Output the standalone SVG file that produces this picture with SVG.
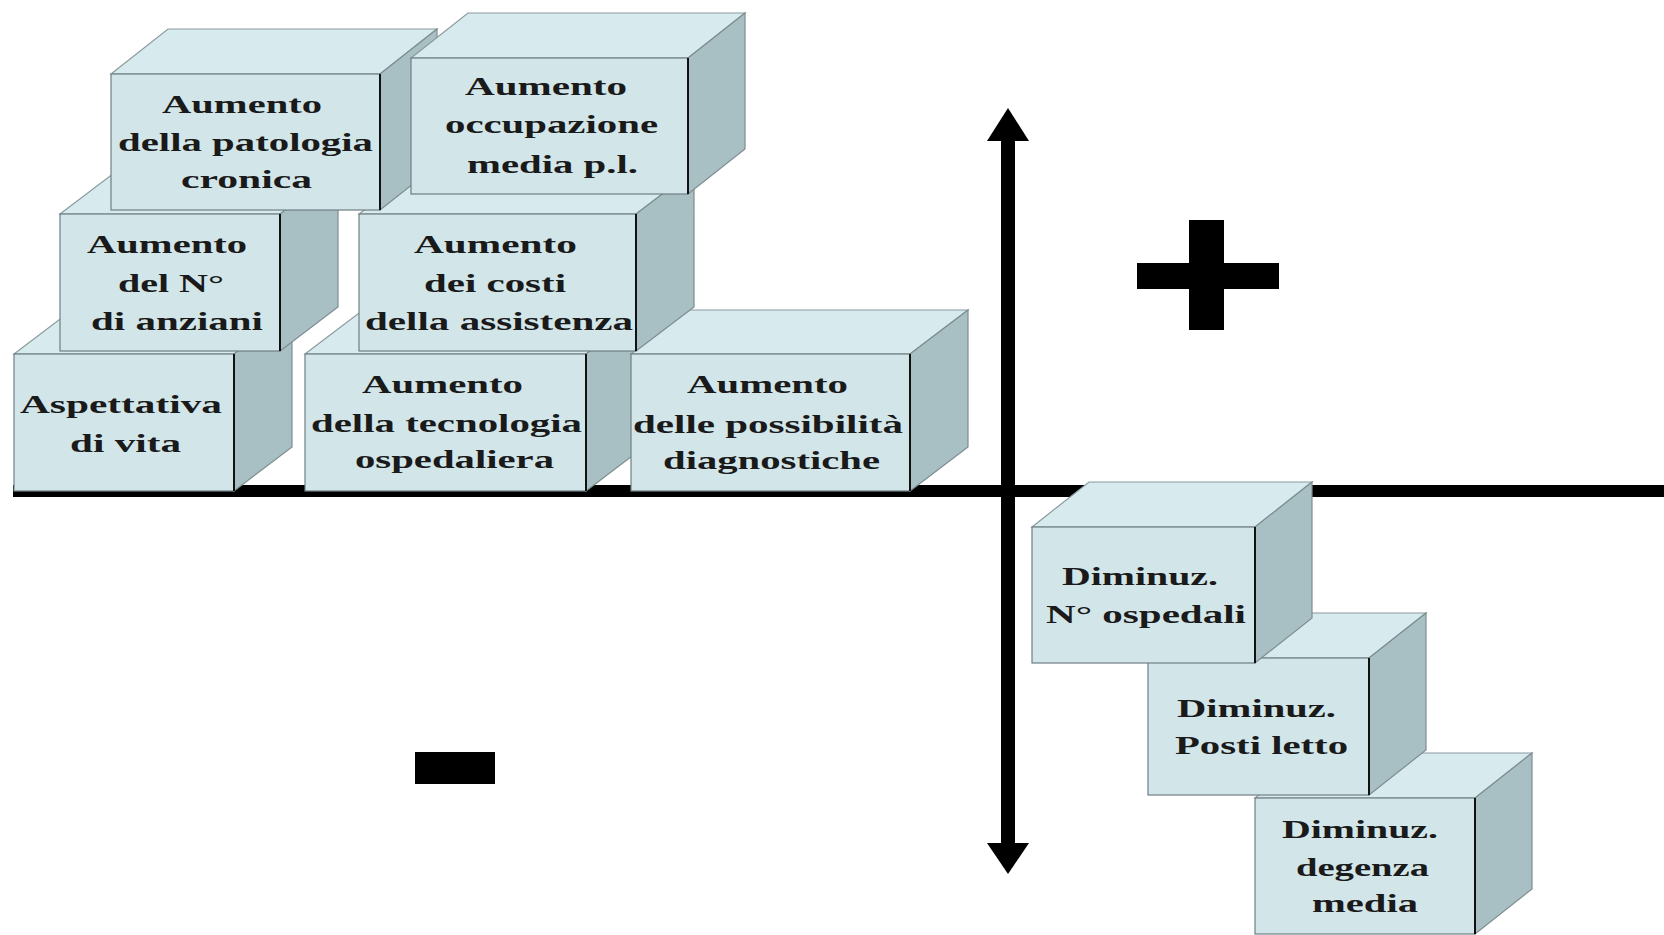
<svg xmlns="http://www.w3.org/2000/svg" width="1664" height="935" viewBox="0 0 1664 935">
<style>
.top{fill:#d7eaee;stroke:#8a9a9d;stroke-width:1.2}
.side{fill:#a8bfc3;stroke:#7d8e91;stroke-width:1.2}
.front{fill:#d2e6ea;stroke:#6f7f82;stroke-width:1.2}
.edge{stroke:#111;stroke-width:2}
.t{font-family:"Liberation Serif","Times New Roman",serif;font-weight:bold;font-size:26px;fill:#1a1a1a}
.ax{fill:#000}
</style>
<rect width="1664" height="935" fill="#fff"/>
<g id="connectors">
<rect class="ax" x="13" y="485" width="1651" height="12"/>
<rect class="ax" x="1001" y="138" width="14" height="707"/>
<polygon class="ax" points="1008,108 987,141 1029,141"/>
<polygon class="ax" points="1008,874 987,843 1029,843"/>
</g>
<g id="plus"><rect class="ax" x="1137" y="263" width="142" height="26"/><rect class="ax" x="1189" y="220" width="35" height="110"/></g>
<g id="minus"><rect class="ax" x="415" y="752" width="80" height="32"/></g>

<g id="box-aspettativa">
<polygon class="top" points="14,354 72,310 292,310 234,354"/>
<polygon class="side" points="234,354 292,310 292,447 234,491"/>
<rect class="front" x="14" y="354" width="220" height="137"/>
<line class="edge" x1="234" y1="354" x2="234" y2="491"/>
<text class="t" x="20" y="413" textLength="202" lengthAdjust="spacingAndGlyphs">Aspettativa</text>
<text class="t" x="70" y="452" textLength="111" lengthAdjust="spacingAndGlyphs">di vita</text>
</g>
<g id="box-tecnologia">
<polygon class="top" points="305,354 363,310 644,310 586,354"/>
<polygon class="side" points="586,354 644,310 644,447 586,491"/>
<rect class="front" x="305" y="354" width="281" height="137"/>
<line class="edge" x1="586" y1="354" x2="586" y2="491"/>
<text class="t" x="362" y="393" textLength="161" lengthAdjust="spacingAndGlyphs">Aumento</text>
<text class="t" x="311" y="432" textLength="271" lengthAdjust="spacingAndGlyphs">della tecnologia</text>
<text class="t" x="355" y="468" textLength="199" lengthAdjust="spacingAndGlyphs">ospedaliera</text>
</g>
<g id="box-diagnostiche">
<polygon class="top" points="631,354 689,310 968,310 910,354"/>
<polygon class="side" points="910,354 968,310 968,447 910,491"/>
<rect class="front" x="631" y="354" width="279" height="137"/>
<line class="edge" x1="910" y1="354" x2="910" y2="491"/>
<text class="t" x="687" y="393" textLength="161" lengthAdjust="spacingAndGlyphs">Aumento</text>
<text class="t" x="633" y="433" textLength="270" lengthAdjust="spacingAndGlyphs">delle possibilità</text>
<text class="t" x="663" y="469" textLength="217" lengthAdjust="spacingAndGlyphs">diagnostiche</text>
</g>
<g id="box-anziani">
<polygon class="top" points="60,214 118,170 338,170 280,214"/>
<polygon class="side" points="280,214 338,170 338,307 280,351"/>
<rect class="front" x="60" y="214" width="220" height="137"/>
<line class="edge" x1="280" y1="214" x2="280" y2="351"/>
<text class="t" x="87" y="253" textLength="160" lengthAdjust="spacingAndGlyphs">Aumento</text>
<text class="t" x="118" y="292" textLength="106" lengthAdjust="spacingAndGlyphs">del N°</text>
<text class="t" x="91" y="330" textLength="172" lengthAdjust="spacingAndGlyphs">di anziani</text>
</g>
<g id="box-costi">
<polygon class="top" points="359,214 417,170 694,170 636,214"/>
<polygon class="side" points="636,214 694,170 694,307 636,351"/>
<rect class="front" x="359" y="214" width="277" height="137"/>
<line class="edge" x1="636" y1="214" x2="636" y2="351"/>
<text class="t" x="414" y="253" textLength="163" lengthAdjust="spacingAndGlyphs">Aumento</text>
<text class="t" x="424" y="292" textLength="142" lengthAdjust="spacingAndGlyphs">dei costi</text>
<text class="t" x="365" y="330" textLength="268" lengthAdjust="spacingAndGlyphs">della assistenza</text>
</g>
<g id="box-patologia">
<polygon class="top" points="111,74 168,29 437,29 380,74"/>
<polygon class="side" points="380,74 437,29 437,165 380,210"/>
<rect class="front" x="111" y="74" width="269" height="136"/>
<line class="edge" x1="380" y1="74" x2="380" y2="210"/>
<text class="t" x="162" y="113" textLength="160" lengthAdjust="spacingAndGlyphs">Aumento</text>
<text class="t" x="118" y="151" textLength="255" lengthAdjust="spacingAndGlyphs">della patologia</text>
<text class="t" x="181" y="188" textLength="131" lengthAdjust="spacingAndGlyphs">cronica</text>
</g>
<g id="box-occupazione">
<polygon class="top" points="411,58 468,13 745,13 688,58"/>
<polygon class="side" points="688,58 745,13 745,149 688,194"/>
<rect class="front" x="411" y="58" width="277" height="136"/>
<line class="edge" x1="688" y1="58" x2="688" y2="194"/>
<text class="t" x="465" y="95" textLength="162" lengthAdjust="spacingAndGlyphs">Aumento</text>
<text class="t" x="445" y="133" textLength="213" lengthAdjust="spacingAndGlyphs">occupazione</text>
<text class="t" x="467" y="173" textLength="171" lengthAdjust="spacingAndGlyphs">media p.l.</text>
</g>
<g id="box-degenza">
<polygon class="top" points="1255,798 1312,753 1532,753 1475,798"/>
<polygon class="side" points="1475,798 1532,753 1532,889 1475,934"/>
<rect class="front" x="1255" y="798" width="220" height="136"/>
<line class="edge" x1="1475" y1="798" x2="1475" y2="934"/>
<text class="t" x="1282" y="838" textLength="156" lengthAdjust="spacingAndGlyphs">Diminuz.</text>
<text class="t" x="1296" y="876" textLength="133" lengthAdjust="spacingAndGlyphs">degenza</text>
<text class="t" x="1312" y="912" textLength="106" lengthAdjust="spacingAndGlyphs">media</text>
</g>
<g id="box-posti">
<polygon class="top" points="1148,658 1205,613 1426,613 1369,658"/>
<polygon class="side" points="1369,658 1426,613 1426,750 1369,795"/>
<rect class="front" x="1148" y="658" width="221" height="137"/>
<line class="edge" x1="1369" y1="658" x2="1369" y2="795"/>
<text class="t" x="1177" y="717" textLength="159" lengthAdjust="spacingAndGlyphs">Diminuz.</text>
<text class="t" x="1175" y="754" textLength="173" lengthAdjust="spacingAndGlyphs">Posti letto</text>
</g>
<g id="box-ospedali">
<polygon class="top" points="1032,527 1089,482 1312,482 1255,527"/>
<polygon class="side" points="1255,527 1312,482 1312,618 1255,663"/>
<rect class="front" x="1032" y="527" width="223" height="136"/>
<line class="edge" x1="1255" y1="527" x2="1255" y2="663"/>
<text class="t" x="1062" y="585" textLength="156" lengthAdjust="spacingAndGlyphs">Diminuz.</text>
<text class="t" x="1046" y="623" textLength="200" lengthAdjust="spacingAndGlyphs">N° ospedali</text>
</g>
</svg>
